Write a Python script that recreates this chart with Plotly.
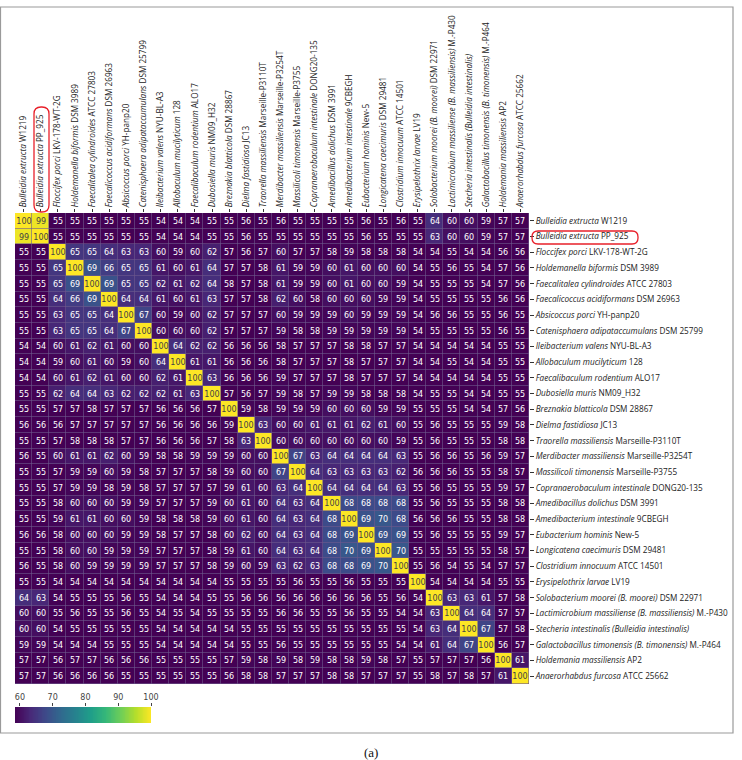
import plotly.graph_objects as go

W, H = 742, 760

species = [
    ("Bulleidia extructa", "W1219"),
    ("Bulleidia extructa", "PP_925"),
    ("Floccifex porci", "LKV-178-WT-2G"),
    ("Holdemanella biformis", "DSM 3989"),
    ("Faecalitalea cylindroides", "ATCC 27803"),
    ("Faecalicoccus acidiformans", "DSM 26963"),
    ("Absicoccus porci", "YH-panp20"),
    ("Catenisphaera adipataccumulans", "DSM 25799"),
    ("Ileibacterium valens", "NYU-BL-A3"),
    ("Allobaculum mucilyticum", "128"),
    ("Faecalibaculum rodentium", "ALO17"),
    ("Dubosiella muris", "NM09_H32"),
    ("Breznakia blatticola", "DSM 28867"),
    ("Dielma fastidiosa", "JC13"),
    ("Traorella massiliensis", "Marseille-P3110T"),
    ("Merdibacter massiliensis", "Marseille-P3254T"),
    ("Massilicoli timonensis", "Marseille-P3755"),
    ("Copranaerobaculum intestinale", "DONG20-135"),
    ("Amedibacillus dolichus", "DSM 3991"),
    ("Amedibacterium intestinale", "9CBEGH"),
    ("Eubacterium hominis", "New-5"),
    ("Longicatena caecimuris", "DSM 29481"),
    ("Clostridium innocuum", "ATCC 14501"),
    ("Erysipelothrix larvae", "LV19"),
    ("Solobacterium moorei (B. moorei)", "DSM 22971"),
    ("Lactimicrobium massiliense (B. massiliensis)", "M.-P430"),
    ("Stecheria intestinalis (Bulleidia intestinalis)", ""),
    ("Galactobacillus timonensis (B. timonensis)", "M.-P464"),
    ("Holdemania massiliensis", "AP2"),
    ("Anaerorhabdus furcosa", "ATCC 25662"),
]

similarity = [
    [100,99,55,55,55,55,55,55,54,54,54,55,55,56,55,56,55,55,55,55,56,55,56,55,64,60,60,59,57,57],
    [99,100,55,55,55,55,55,55,54,54,54,55,55,56,55,55,55,55,55,55,56,55,55,55,63,60,60,59,57,57],
    [55,55,100,65,65,64,63,63,60,59,60,62,57,56,57,60,57,57,58,59,58,58,58,54,54,55,54,54,56,56],
    [55,55,65,100,69,66,65,65,61,60,61,64,57,57,58,61,59,59,60,61,60,60,60,54,55,56,55,54,57,56],
    [55,55,65,69,100,69,65,65,62,61,62,64,58,57,58,61,59,59,60,61,60,60,59,54,55,55,55,54,57,56],
    [55,55,64,66,69,100,64,64,61,60,61,63,57,57,58,62,60,58,60,60,60,59,59,54,55,55,55,55,56,56],
    [55,55,63,65,65,64,100,67,60,59,60,62,57,57,57,60,59,59,59,60,59,59,59,54,56,56,55,55,56,55],
    [55,55,63,65,65,64,67,100,60,60,60,62,57,57,57,59,58,58,59,59,59,59,59,54,55,55,55,55,56,55],
    [54,54,60,61,62,61,60,60,100,64,62,62,56,56,56,58,57,57,57,58,58,57,57,54,54,54,54,54,55,55],
    [54,54,59,60,61,60,59,60,64,100,61,61,56,56,56,58,57,57,57,58,57,57,57,54,54,55,54,54,55,55],
    [54,54,60,61,62,61,60,60,62,61,100,63,56,56,56,59,57,57,57,58,57,57,57,54,54,54,54,54,55,55],
    [55,55,62,64,64,63,62,62,62,61,63,100,57,56,57,59,58,57,59,59,58,58,58,54,55,55,54,54,55,55],
    [55,55,57,57,58,57,57,57,56,56,56,57,100,59,58,59,59,59,60,60,60,59,59,55,55,55,54,54,57,56],
    [56,56,56,57,57,57,57,57,56,56,56,56,59,100,63,60,60,61,61,61,62,61,60,55,56,55,55,55,59,58],
    [55,55,57,58,58,58,57,57,56,56,56,57,58,63,100,60,60,60,60,60,60,60,59,55,56,55,55,55,58,58],
    [56,55,60,61,61,62,60,59,58,58,59,59,59,60,60,100,67,63,64,64,64,64,63,55,56,56,55,56,59,57],
    [55,55,57,59,59,60,59,58,57,57,57,58,59,60,60,67,100,64,63,63,63,63,62,56,56,56,55,55,58,57],
    [55,55,57,59,59,58,59,58,57,57,57,57,59,61,60,63,64,100,64,64,64,64,63,55,56,55,55,55,59,57],
    [55,55,58,60,60,60,59,59,57,57,57,59,60,61,60,64,63,64,100,68,68,68,68,55,56,55,55,55,58,58],
    [55,55,59,61,61,60,60,59,58,58,58,59,60,61,60,64,63,64,68,100,69,70,68,56,56,56,55,55,58,58],
    [56,56,58,60,60,60,59,59,58,57,57,58,60,62,60,64,63,64,68,69,100,69,69,55,56,55,55,55,59,57],
    [55,55,58,60,60,59,59,59,57,57,57,58,59,61,60,64,63,64,68,70,69,100,70,55,55,55,55,55,58,57],
    [56,55,58,60,59,59,59,59,57,57,57,58,59,60,59,63,62,63,68,68,69,70,100,55,56,54,55,54,57,57],
    [55,55,54,54,54,54,54,54,54,54,54,54,55,55,55,55,56,55,55,56,55,55,55,100,54,54,54,54,55,55],
    [64,63,54,55,55,55,56,55,54,54,54,55,55,56,56,56,56,56,56,56,56,55,56,54,100,63,63,61,57,58],
    [60,60,55,56,55,55,56,55,54,55,54,55,55,55,55,56,56,55,55,56,55,55,54,54,63,100,64,64,57,57],
    [60,60,54,55,55,55,55,55,54,54,54,54,54,55,55,55,55,55,55,55,55,55,55,54,63,64,100,67,57,58],
    [59,59,54,54,54,55,55,55,54,54,54,54,54,55,55,56,55,55,55,55,55,55,54,54,61,64,67,100,56,57],
    [57,57,56,57,57,56,56,56,55,55,55,55,57,59,58,59,58,59,58,58,59,58,57,55,57,57,57,56,100,61],
    [57,57,56,56,56,56,55,55,55,55,55,55,56,58,58,57,57,57,58,58,57,57,57,55,58,57,58,57,61,100],
]

colorbar_ticks = [60, 70, 80, 90, 100]
z_min, z_max = 58.5, 100

labels = [f"<i>{g}</i> {s}".strip() for g, s in species]
idx = list(range(len(labels)))


def fx(x):
    return x / W


def fy(y):
    return 1 - y / H


# heatmap area (pixels)
L, R, T, B = 15, 529, 213, 684
# colour bar area (pixels)
CL, CR, CT, CB = 15, 151, 707, 723

grad = [z_min + 0.25 * i for i in range(int((z_max - z_min) / 0.25) + 1)]

fig = go.Figure()
fig.add_trace(go.Heatmap(
    z=similarity, x=idx, y=idx,
    zmin=z_min, zmax=z_max,
    colorscale="Viridis", showscale=False,
    xgap=0.6, ygap=0.6,
    texttemplate="%{z}",
    textfont=dict(family="DejaVu Sans", size=8),
    xaxis="x", yaxis="y",
))
fig.add_trace(go.Heatmap(
    z=[grad], x=grad, y=[0],
    zmin=z_min, zmax=z_max,
    colorscale="Viridis", showscale=False, hoverinfo="skip",
    xaxis="x2", yaxis="y2",
))

tickfont = dict(family="Open Sans", size=8.2, color="#222")
fig.update_layout(
    width=W, height=H,
    margin=dict(l=0, r=0, t=0, b=0),
    paper_bgcolor="white", plot_bgcolor="#6e5a8e",
    xaxis=dict(
        domain=[fx(L), fx(R)], anchor="y",
        side="top", tickvals=idx, ticktext=labels, tickangle=-90,
        ticks="outside", ticklen=3, tickcolor="#333", tickfont=tickfont,
        showgrid=False, zeroline=False, range=[-0.5, 29.5], automargin=False,
    ),
    yaxis=dict(
        domain=[fy(B), fy(T)], anchor="x",
        side="right", tickvals=idx, ticktext=labels,
        ticks="outside", ticklen=4, tickcolor="#333", tickfont=tickfont,
        showgrid=False, zeroline=False, range=[29.5, -0.5], automargin=False,
    ),
    xaxis2=dict(
        domain=[fx(CL), fx(CR)], anchor="y2",
        side="top", range=[z_min, z_max], tickvals=colorbar_ticks,
        ticks="outside", ticklen=3, tickcolor="#444",
        tickfont=dict(family="DejaVu Sans", size=8, color="#444"),
        showgrid=False, zeroline=False, showline=False, automargin=False,
    ),
    yaxis2=dict(
        domain=[fy(CB), fy(CT)], anchor="x2", range=[-0.5, 0.5],
        visible=False,
    ),
)


def rounded_rect(x0, y0, x1, y1, r):
    def P(x, y):
        return f"{fx(x):.5f},{fy(y):.5f}"
    path = (f"M{P(x0 + r, y0)} L{P(x1 - r, y0)} Q{P(x1, y0)} {P(x1, y0 + r)} "
            f"L{P(x1, y1 - r)} Q{P(x1, y1)} {P(x1 - r, y1)} "
            f"L{P(x0 + r, y1)} Q{P(x0, y1)} {P(x0, y1 - r)} "
            f"L{P(x0, y0 + r)} Q{P(x0, y0)} {P(x0 + r, y0)} Z")
    return dict(type="path", xref="paper", yref="paper", path=path,
                line=dict(color="#e8202a", width=1.3))


fig.update_layout(
    shapes=[
        rounded_rect(34, 107, 49, 212, 7),
        rounded_rect(532, 231, 638, 244, 6),
        dict(type="rect", xref="paper", yref="paper",
             x0=fx(0.5), x1=fx(733), y0=fy(7), y1=fy(733),
             line=dict(color="#9a9a9a", width=1.2)),
    ],
    annotations=[dict(
        text="(a)", xref="paper", yref="paper", x=fx(371), y=fy(752),
        xanchor="center", yanchor="middle",
        showarrow=False, font=dict(family="Liberation Serif", size=13, color="#111"),
    )],
)

fig.write_html("out.html")
